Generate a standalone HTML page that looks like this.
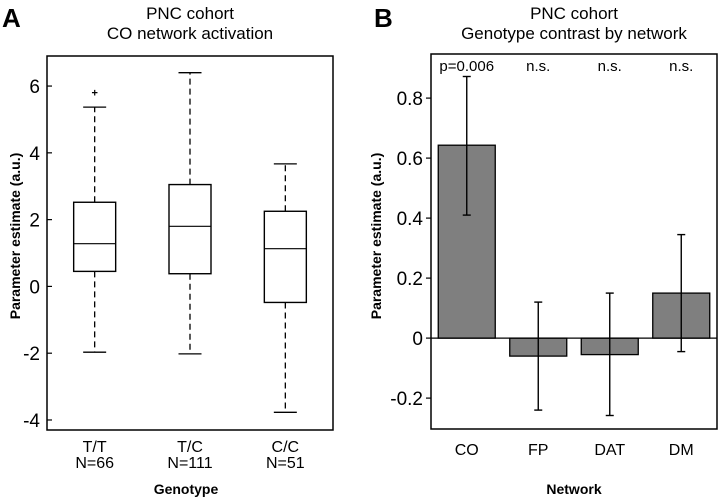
<!DOCTYPE html>
<html><head><meta charset="utf-8"><style>
body{margin:0;background:#fff}
svg{display:block;font-family:"Liberation Sans",Arial,sans-serif}
</style></head><body>
<svg id="fig" width="720" height="500" viewBox="0 0 720 500">
<text x="2" y="27" font-size="26" font-weight="bold">A</text>
<text x="190" y="19" font-size="17" text-anchor="middle">PNC cohort</text>
<text x="190" y="39" font-size="17" text-anchor="middle">CO network activation</text>
<text x="374" y="27" font-size="26" font-weight="bold">B</text>
<text x="574" y="19" font-size="17" text-anchor="middle">PNC cohort</text>
<text x="574" y="39" font-size="17" text-anchor="middle">Genotype contrast by network</text>
<g id="pa"></g>
<g id="pb"></g>
<text x="186" y="494" font-size="14" font-weight="bold" text-anchor="middle">Genotype</text>
<text transform="translate(20,236) rotate(-90)" font-size="14" font-weight="bold" text-anchor="middle">Parameter estimate (a.u.)</text>
<text x="574" y="494" font-size="14" font-weight="bold" text-anchor="middle">Network</text>
<text transform="translate(381,236) rotate(-90)" font-size="14" font-weight="bold" text-anchor="middle">Parameter estimate (a.u.)</text>
</svg>
<script>
const genotypes=["T/T","T/C","C/C"];
const groupN=["N=66","N=111","N=51"];
const q1=[0.45,0.38,-0.48];
const med=[1.28,1.8,1.13];
const q3=[2.52,3.05,2.25];
const whiskLo=[-1.97,-2.02,-3.77];
const whiskHi=[5.37,6.4,3.67];
const outliers=[[5.8],[],[]];
const ticksA=[-4,-2,0,2,4,6];

const networks=["CO","FP","DAT","DM"];
const estimates=[0.643,-0.06,-0.055,0.15];
const errLo=[0.41,-0.24,-0.258,-0.045];
const errHi=[0.872,0.12,0.15,0.345];
const sigLabels=["p=0.006","n.s.","n.s.","n.s."];
const ticksB=[-0.2,0,0.2,0.4,0.6,0.8];

const NS="http://www.w3.org/2000/svg";
function mk(parent,tag,attrs,text){const e=document.createElementNS(NS,tag);for(const k in attrs)e.setAttribute(k,attrs[k]);if(text!==undefined)e.textContent=text;parent.appendChild(e);return e;}

// Panel A
const pa=document.getElementById('pa');
const A={x0:47,x1:333,y0:56,y1:430,dmin:-4.3,dmax:6.9};
const yA=v=>A.y1-(v-A.dmin)/(A.dmax-A.dmin)*(A.y1-A.y0);
const xA=i=>A.x0+(A.x1-A.x0)*(i+0.5)/genotypes.length;
let fr=mk(pa,'rect',{x:A.x0,y:A.y0,width:A.x1-A.x0,height:A.y1-A.y0,fill:'none',stroke:'#000','stroke-width':1.5});


ticksA.forEach(t=>{
  const y=yA(t);
  const l=mk(pa,'line',{x1:A.x0,x2:A.x0+5,y1:y,y2:y,stroke:'#000','stroke-width':1.2});
  
  
  const tx=mk(pa,'text',{x:A.x0-7,y:y+7,'font-size':19,'text-anchor':'end'},String(t));
  
  
});
genotypes.forEach((g,i)=>{
  const cx=xA(i),bw=21,cw=11.5;
  const grp=mk(pa,'g',{});
  
  
  mk(grp,'line',{x1:cx,x2:cx,y1:yA(q3[i]),y2:yA(whiskHi[i]),stroke:'#000','stroke-width':1.3,'stroke-dasharray':'6,4'});
  mk(grp,'line',{x1:cx,x2:cx,y1:yA(q1[i]),y2:yA(whiskLo[i]),stroke:'#000','stroke-width':1.3,'stroke-dasharray':'6,4'});
  mk(grp,'line',{x1:cx-cw,x2:cx+cw,y1:yA(whiskHi[i]),y2:yA(whiskHi[i]),stroke:'#000','stroke-width':1.3});
  mk(grp,'line',{x1:cx-cw,x2:cx+cw,y1:yA(whiskLo[i]),y2:yA(whiskLo[i]),stroke:'#000','stroke-width':1.3});
  mk(grp,'rect',{x:cx-bw,y:yA(q3[i]),width:2*bw,height:yA(q1[i])-yA(q3[i]),fill:'#fff',stroke:'#000','stroke-width':1.4});
  mk(grp,'line',{x1:cx-bw,x2:cx+bw,y1:yA(med[i]),y2:yA(med[i]),stroke:'#000','stroke-width':1.2});
  outliers[i].forEach(o=>{
    const p=mk(grp,'text',{x:cx,y:yA(o)+4,'font-size':11,'font-weight':'bold','text-anchor':'middle'},'+');
    
    
  });
  const l1=mk(pa,'text',{x:cx,y:452,'font-size':16,'text-anchor':'middle'},g);
  
  
  const l2=mk(pa,'text',{x:cx,y:468,'font-size':16,'text-anchor':'middle'},groupN[i]);
  
  
});

// Panel B
const pb=document.getElementById('pb');
const B={x0:431,x1:717,y0:54,y1:429,dmin:-0.303,dmax:0.947};
const yB=v=>B.y1-(v-B.dmin)/(B.dmax-B.dmin)*(B.y1-B.y0);
const xB=i=>B.x0+(B.x1-B.x0)*(i+0.5)/networks.length;
let fb=mk(pb,'rect',{x:B.x0,y:B.y0,width:B.x1-B.x0,height:B.y1-B.y0,fill:'none',stroke:'#000','stroke-width':1.5});


ticksB.forEach(t=>{
  const y=yB(t);
  const l=mk(pb,'line',{x1:B.x0-5,x2:B.x0,y1:y,y2:y,stroke:'#000','stroke-width':1.2});
  
  
  const tx=mk(pb,'text',{x:B.x0-8,y:y+7,'font-size':19,'text-anchor':'end'},t===0?'0':String(t));
  
  
});
networks.forEach((n,i)=>{
  const cx=xB(i),bw=28.5;
  const y0=yB(0),yv=yB(estimates[i]);
  const b=mk(pb,'rect',{x:cx-bw,y:Math.min(y0,yv),width:2*bw,height:Math.abs(yv-y0),fill:'#7f7f7f',stroke:'#000','stroke-width':1.3});
  
  
  const eg=mk(pb,'g',{stroke:'#000','stroke-width':1.4});
  
  
  mk(eg,'line',{x1:cx,x2:cx,y1:yB(errLo[i]),y2:yB(errHi[i])});
  mk(eg,'line',{x1:cx-4,x2:cx+4,y1:yB(errLo[i]),y2:yB(errLo[i])});
  mk(eg,'line',{x1:cx-4,x2:cx+4,y1:yB(errHi[i]),y2:yB(errHi[i])});
  const s=mk(pb,'text',{x:cx,y:71,'font-size':15,'text-anchor':'middle'},sigLabels[i]);
  
  
  const c=mk(pb,'text',{x:cx,y:455,'font-size':16,'text-anchor':'middle'},n);
  
  
});
const zl=mk(pb,'line',{x1:B.x0,x2:B.x1,y1:yB(0),y2:yB(0),stroke:'#000','stroke-width':1.3});


</script>
</body></html>
